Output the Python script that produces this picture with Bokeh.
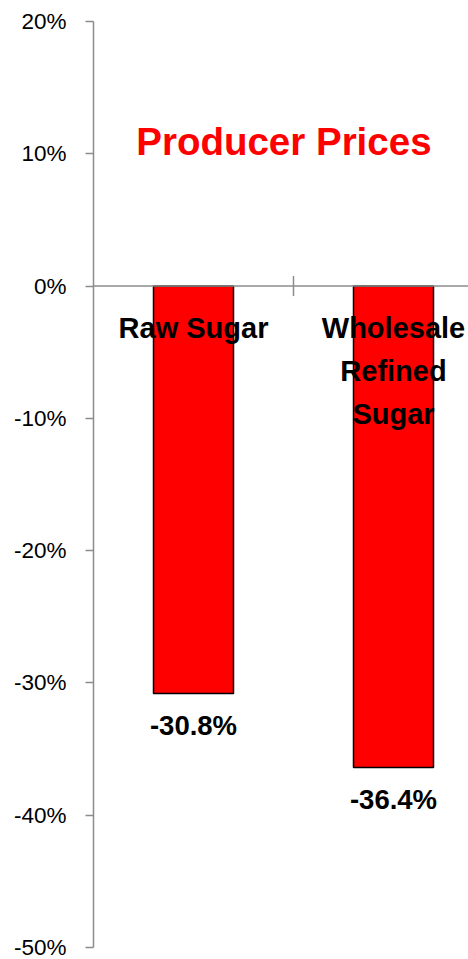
from bokeh.plotting import figure
from bokeh.models import Range1d, FixedTicker, PrintfTickFormatter, ColumnDataSource, Span, Label
from bokeh.core.properties import value
from bokeh.embed import file_html
from bokeh.resources import INLINE

categories = ["Raw Sugar", "Wholesale\nRefined\nSugar"]
changes = [-30.8, -36.4]
value_labels = ["-30.8%", "-36.4%"]
y_ticks = [-50, -40, -30, -20, -10, 0, 10, 20]
title_text = "Producer Prices"

FONT = "Liberation Sans"
AXIS_GRAY = "#8c8c8c"

positions = [i + 0.5 for i in range(len(categories))]
src = ColumnDataSource(dict(x=positions, top=[0] * len(changes), bottom=changes,
                            cat=categories, lab=value_labels))

p = figure(width=468, height=959, output_backend="svg", toolbar_location=None,
           x_range=Range1d(0, 1.875), y_range=Range1d(-50, 20),
           min_border_left=93, min_border_right=0, min_border_top=21, min_border_bottom=12)
p.outline_line_color = None
p.xgrid.visible = False
p.ygrid.visible = False
p.xaxis.visible = False

ya = p.yaxis[0]
ya.ticker = FixedTicker(ticks=y_ticks)
ya.formatter = PrintfTickFormatter(format="%d%%")
ya.axis_line_color = AXIS_GRAY
ya.axis_line_width = 1.5
ya.major_tick_line_color = AXIS_GRAY
ya.major_tick_line_width = 1.5
ya.major_tick_in = 0
ya.major_tick_out = 8
ya.minor_tick_line_color = None
ya.major_label_standoff = 19
ya.major_label_text_font = FONT
ya.major_label_text_font_size = "22.5px"
ya.major_label_text_color = "black"

# zero line acting as the category axis
p.add_layout(Span(location=0, dimension="width", line_color=AXIS_GRAY, line_width=1.5))
# category divider tick
p.segment(x0=[1.0], x1=[1.0], y0=[0.76], y1=[-0.76], line_color=AXIS_GRAY, line_width=1.5)

p.vbar(x="x", top="top", bottom="bottom", width=0.4, source=src,
       fill_color="#ff0000", line_color="black", line_width=1.5)

p.text(x="x", y="top", text="cat", source=src, y_offset=26,
       text_align="center", text_baseline="top", text_font=value(FONT), text_font_style="bold",
       text_font_size="29px", text_color="black", text_line_height=1.34)

p.text(x="x", y="bottom", text="lab", source=src, y_offset=16,
       text_align="center", text_baseline="top", text_font=value(FONT), text_font_style="bold",
       text_font_size="27.5px", text_color="black")

p.add_layout(Label(x=0.952, y=10.9, text=title_text, text_align="center", text_baseline="middle",
                   text_font=FONT, text_font_style="bold", text_font_size="38.5px",
                   text_color="#ff0000"))

open("out.html", "w").write(file_html(p, INLINE))
